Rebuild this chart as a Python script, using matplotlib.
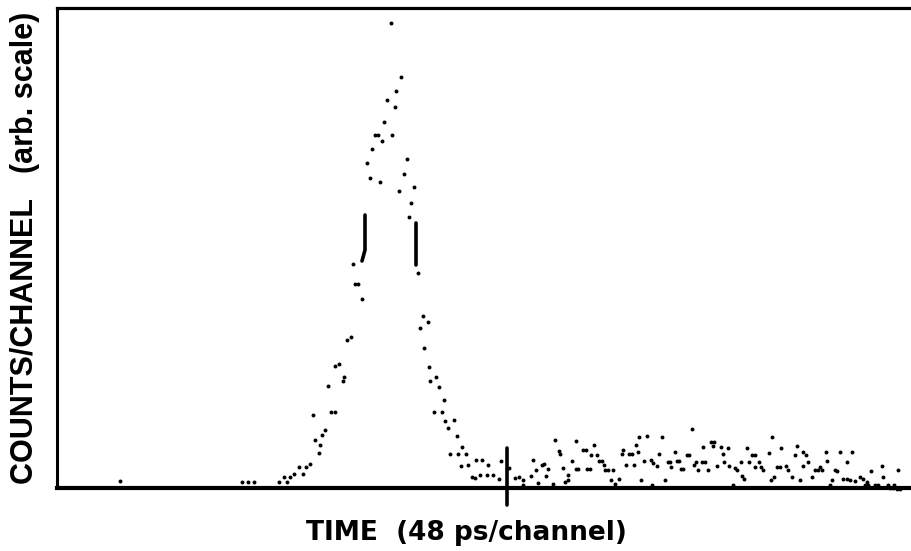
import matplotlib
matplotlib.use("Agg")
import matplotlib.pyplot as plt

channel = [
    63, 185, 191, 197, 222, 227, 230, 233, 237, 242, 246, 249, 253,
    256, 258, 262, 263, 265, 268, 271, 274, 278, 278, 282, 286, 287, 290, 294,
    296, 298, 301, 305, 310, 313, 315, 318, 321, 323, 325, 327, 330, 334, 335,
    338, 339, 342, 344, 347, 350, 352, 354, 357, 361, 363, 366, 367, 371, 372,
    373, 377, 379, 382, 385, 387, 388, 391, 393, 397, 400, 401, 404, 405, 409,
    411, 415, 418, 419,
    423, 425, 430, 431, 436, 442, 444, 452, 458, 462, 466, 466, 474, 476, 479,
    481, 485, 487, 489, 491, 496, 498, 502, 503, 506, 508, 511, 511, 515, 519,
    519, 521, 526, 529, 530, 533, 534, 537, 540, 542, 545, 547, 548, 551, 554,
    556, 558, 562, 565, 566, 569, 572, 575, 577, 579, 581, 582, 584, 587, 590,
    594, 595, 596, 600, 602, 605, 608, 611, 613, 614, 618, 620, 622, 624, 626,
    630, 632, 635, 637, 639, 641, 645, 646, 648, 651, 654, 656, 657, 660, 664,
    666, 667, 671, 672, 676, 678, 680, 684, 685, 687, 690, 692, 695, 698, 698,
    702, 704, 706, 712, 714, 715, 717, 720, 723, 724, 729, 731, 735, 738, 740,
    743, 746, 746, 749, 751, 755, 758, 761, 763, 765, 769, 770, 773, 775, 778,
    780, 783, 786, 790, 790, 793, 795, 798, 803, 806, 808, 810, 811, 814, 818,
    821, 825, 826, 830, 831, 833, 836, 837, 840, 841, 843,
]
counts = [
    7, 6, 6, 6, 6, 11, 6, 11, 14, 21, 14, 21, 24,
    73, 48, 35, 43, 53, 58, 102, 76, 76, 122, 124, 107, 111, 148, 151,
    224, 204, 204, 189, 325, 310, 339, 353, 353, 306, 347, 366, 388, 465, 353,
    381, 397, 297, 411, 314, 329, 271, 285, 301, 215, 160, 172, 140, 166, 121,
    107, 76, 111, 101, 76, 88, 67, 60, 34, 68, 52, 34, 22, 41, 34,
    23, 11, 10, 28,
    13, 28, 13, 23, 13, 9, 27, 20, 10, 11, 8, 3, 12, 28, 18,
    5, 23, 24, 12, 19, 4, 48, 37, 34, 20, 6, 8, 13, 27, 47,
    19, 19, 38, 38, 19, 19, 33, 43, 33, 27, 27, 23, 18, 18, 8,
    18, 4, 9, 34, 38, 23, 34, 34, 23, 43, 36, 51, 8, 27, 52,
    28, 3, 25, 22, 34, 51, 8, 26, 26, 21, 36, 27, 27, 19, 19,
    33, 33, 59, 23, 26, 18, 26, 41, 26, 18, 46, 42, 46, 22, 41,
    34, 26, 40, 22, 3, 20, 18, 26, 12, 9, 40, 26, 33, 33, 21,
    26, 21, 18, 35, 8, 51, 11, 21, 21, 40, 22, 18, 11, 33, 42,
    8, 36, 22, 33, 26, 11, 18, 18, 21, 18, 36, 27, 3, 8, 18,
    17, 36, 9, 9, 26, 8, 36, 7, 11, 9, 3, 6, 3, 17, 3,
    3, 22, 11, 1, 3, 0, 0, 3, -1, 18, -1,
]

# resolution markers on the peak flanks and the time-zero tick on the axis
left_mark_x = [308, 308, 305]
left_mark_y = [273, 238, 227]
right_mark_x = [359, 359]
right_mark_y = [265, 223]
zero_mark_x = [450, 450]
zero_mark_y = [40, -17]

# ── figure ────────────────────────────────────────────────────────────────────

fig = plt.figure(figsize=(9.11, 5.51), dpi=100)
ax = fig.add_axes([57 / 911, 63 / 551, 854 / 911, 480 / 551])

ax.scatter(channel, counts, s=8, color="black", linewidths=0, clip_on=False, zorder=3)

for xs, ys in [(left_mark_x, left_mark_y), (right_mark_x, right_mark_y),
               (zero_mark_x, zero_mark_y)]:
    ax.plot(xs, ys, color="black", linewidth=2.6, solid_capstyle="round",
            solid_joinstyle="round", clip_on=False, zorder=4)

ax.set_xlim(0, 854)
ax.set_ylim(0, 480)
ax.set_xticks([])
ax.set_yticks([])
ax.spines["right"].set_visible(False)
ax.spines["bottom"].set_linewidth(3.0)
ax.spines["top"].set_linewidth(2.3)
ax.spines["left"].set_linewidth(2.2)

fig.text(25 / 911, 1 - 248 / 551, "COUNTS/CHANNEL   (arb. scale)",
         rotation=90, ha="center", va="center", fontsize=22,
         fontweight="bold", family="Liberation Sans")
fig.text(466 / 911, 1 - 540 / 551, "TIME  (48 ps/channel)",
         ha="center", va="baseline", fontsize=19, fontweight="bold",
         family="DejaVu Sans")

fig.savefig("out.png", dpi=100, facecolor="white")
